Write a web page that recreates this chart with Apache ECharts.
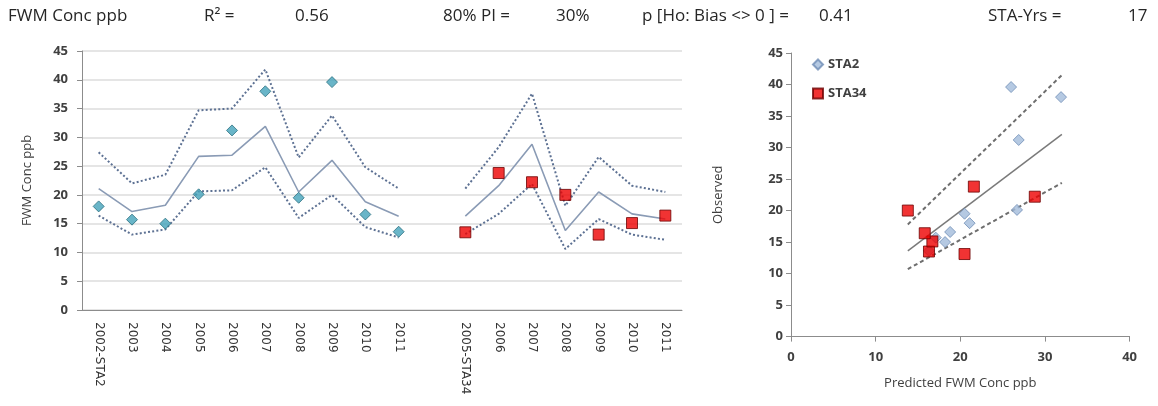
<!DOCTYPE html>
<html>
<head>
<meta charset="utf-8">
<script src="https://cdn.jsdelivr.net/npm/echarts@6/dist/echarts.min.js"></script>
<style>
html,body{margin:0;padding:0;background:#fff;}
#c{width:1158px;height:406px;}
</style>
</head>
<body>
<div id="c"></div>
<script>
// ---- data ----
const categories = ['2002-STA2','2003','2004','2005','2006','2007','2008','2009','2010','2011','',
                    '2005-STA34','2006','2007','2008','2009','2010','2011'];
const predicted = [21.1,17.1,18.2,26.7,26.9,31.9,20.5,26.0,18.8,16.3,null,16.3,21.6,28.8,13.8,20.5,16.7,15.8];
const upperPI   = [27.4,22.0,23.5,34.7,35.0,41.8,26.5,33.8,24.8,21.1,null,21.1,28.3,37.6,18.1,26.6,21.6,20.5];
const lowerPI   = [16.4,13.1,14.0,20.6,20.8,24.8,16.0,20.0,14.4,12.6,null,13.2,16.7,21.9,10.6,15.8,13.1,12.2];
const obsSTA2   = [18.0,15.7,15.0,20.1,31.2,38.0,19.5,39.6,16.6,13.6,null,null,null,null,null,null,null,null];
const obsSTA34  = [null,null,null,null,null,null,null,null,null,null,null,13.5,23.8,22.2,20.0,13.1,15.1,16.4];
// scatter fit lines (predicted at ends, fitted / upper / lower observed)
const fitX     = [13.8, 32.0];
const fitY     = [13.6, 32.1];
const fitUpper = [17.8, 41.5];
const fitLower = [10.7, 24.4];
// header stats
const headerTexts = ['FWM Conc ppb','R² =','0.56','80% PI =','30%','p [Ho: Bias <> 0 ] =','0.41','STA-Yrs =','17'];
const headerX     = [8, 204, 295, 443, 556, 642, 819, 988, 1128];

// build scatter pairs
const sta2Pairs = [], sta34Pairs = [];
for (let i = 0; i < categories.length; i++) {
  if (obsSTA2[i] != null) sta2Pairs.push([predicted[i], obsSTA2[i]]);
  if (obsSTA34[i] != null) sta34Pairs.push([predicted[i], obsSTA34[i]]);
}
const fitLine = fitX.map((x,i)=>[x, fitY[i]]);
const upLine = fitX.map((x,i)=>[x, fitUpper[i]]);
const loLine = fitX.map((x,i)=>[x, fitLower[i]]);

const FONT = 'Open Sans';
const axisCol = '#8c8c8c';
const lblCol = '#404040';

const chart = echarts.init(document.getElementById('c'), null, {renderer:'canvas'});
chart.setOption({
  animation:false,
  graphic: headerTexts.map((t,i)=>({
    type:'text', left: headerX[i], top: 8,
    style:{text:t, font:'17px "Open Sans", sans-serif', fill:'#262626'}
  })),
  legend:{
    data:['STA2','STA34'], orient:'vertical', left:807, top:53, itemGap:16,
    itemWidth:10, itemHeight:10,
    textStyle:{fontFamily:FONT, fontSize:13, color:lblCol, fontWeight:'bold'}
  },
  grid:[
    {left:82, top:51, width:600, height:259},
    {left:791, top:53, width:338.6, height:283.6}
  ],
  xAxis:[
    {gridIndex:0, type:'category', data:categories, boundaryGap:true,
     axisLine:{lineStyle:{color:axisCol, width:1}},
     axisTick:{interval:0, length:6, lineStyle:{color:axisCol}},
     axisLabel:{interval:0, rotate:-90, margin:12, fontFamily:'DejaVu Sans', fontSize:12, color:'#333'}},
    {gridIndex:1, type:'value', min:0, max:40, interval:10,
     name:'Predicted FWM Conc ppb', nameLocation:'middle', nameGap:40,
     nameTextStyle:{fontFamily:FONT, fontSize:13, color:lblCol},
     splitLine:{show:false},
     axisLine:{show:true, lineStyle:{color:axisCol}},
     axisTick:{show:true, length:5, lineStyle:{color:axisCol}},
     axisLabel:{margin:14, fontFamily:FONT, fontSize:13, color:lblCol, fontWeight:'bold'}}
  ],
  yAxis:[
    {gridIndex:0, type:'value', min:0, max:45, interval:5,
     name:'FWM Conc ppb', nameLocation:'middle', nameGap:48, nameRotate:90,
     nameTextStyle:{fontFamily:FONT, fontSize:13, color:lblCol},
     splitLine:{show:true, lineStyle:{color:'#dcdcdc', width:1.5}},
     axisLine:{show:true, lineStyle:{color:axisCol}},
     axisTick:{show:true, length:5, lineStyle:{color:axisCol}},
     axisLabel:{margin:14, fontFamily:FONT, fontSize:13, color:lblCol, fontWeight:'bold'}},
    {gridIndex:1, type:'value', min:0, max:45, interval:5,
     name:'Observed', nameLocation:'middle', nameGap:66, nameRotate:90,
     nameTextStyle:{fontFamily:FONT, fontSize:13, color:lblCol},
     splitLine:{show:false},
     axisLine:{show:true, lineStyle:{color:axisCol}},
     axisTick:{show:true, length:5, lineStyle:{color:axisCol}},
     axisLabel:{margin:8, fontFamily:FONT, fontSize:13, color:lblCol, fontWeight:'bold'}}
  ],
  series:[
    {type:'line', name:'Predicted', xAxisIndex:0, yAxisIndex:0, data:predicted, symbol:'none',
     connectNulls:false, lineStyle:{color:'#8a9bb5', width:1.6}, z:2},
    {type:'line', name:'Upper', xAxisIndex:0, yAxisIndex:0, data:upperPI, symbol:'none',
     connectNulls:false, lineStyle:{color:'#5d7193', width:2, type:[2,2.2]}, z:2},
    {type:'line', name:'Lower', xAxisIndex:0, yAxisIndex:0, data:lowerPI, symbol:'none',
     connectNulls:false, lineStyle:{color:'#5d7193', width:2, type:[2,2.2]}, z:2},
    {type:'scatter', name:'obs2', xAxisIndex:0, yAxisIndex:0, data:obsSTA2, symbol:'diamond', symbolSize:11,
     itemStyle:{color:'#44a3ba', borderColor:'#2b6f80', borderWidth:1}, z:5},
    {type:'scatter', name:'obs34', xAxisIndex:0, yAxisIndex:0, data:obsSTA34, symbol:'rect', symbolSize:11,
     itemStyle:{color:'#ee0000', borderColor:'#6b0000', borderWidth:1}, z:5},

    {type:'line', name:'fit', xAxisIndex:1, yAxisIndex:1, data:fitLine, symbol:'none',
     lineStyle:{color:'#7a7a7a', width:1.5}, z:2},
    {type:'line', name:'fitU', xAxisIndex:1, yAxisIndex:1, data:upLine, symbol:'none',
     lineStyle:{color:'#6e6e6e', width:2, type:[4,3]}, z:2},
    {type:'line', name:'fitL', xAxisIndex:1, yAxisIndex:1, data:loLine, symbol:'none',
     lineStyle:{color:'#6e6e6e', width:2, type:[4,3]}, z:2},
    {type:'scatter', name:'STA2', xAxisIndex:1, yAxisIndex:1, data:sta2Pairs, symbol:'diamond', symbolSize:11,
     itemStyle:{color:'#a3bcdb', borderColor:'#6f8db5', borderWidth:1}, z:4},
    {type:'scatter', name:'STA34', xAxisIndex:1, yAxisIndex:1, data:sta34Pairs, symbol:'rect', symbolSize:11,
     itemStyle:{color:'#ee0000', borderColor:'#6b0000', borderWidth:1}, z:5}
  ]
});
</script>
</body>
</html>
